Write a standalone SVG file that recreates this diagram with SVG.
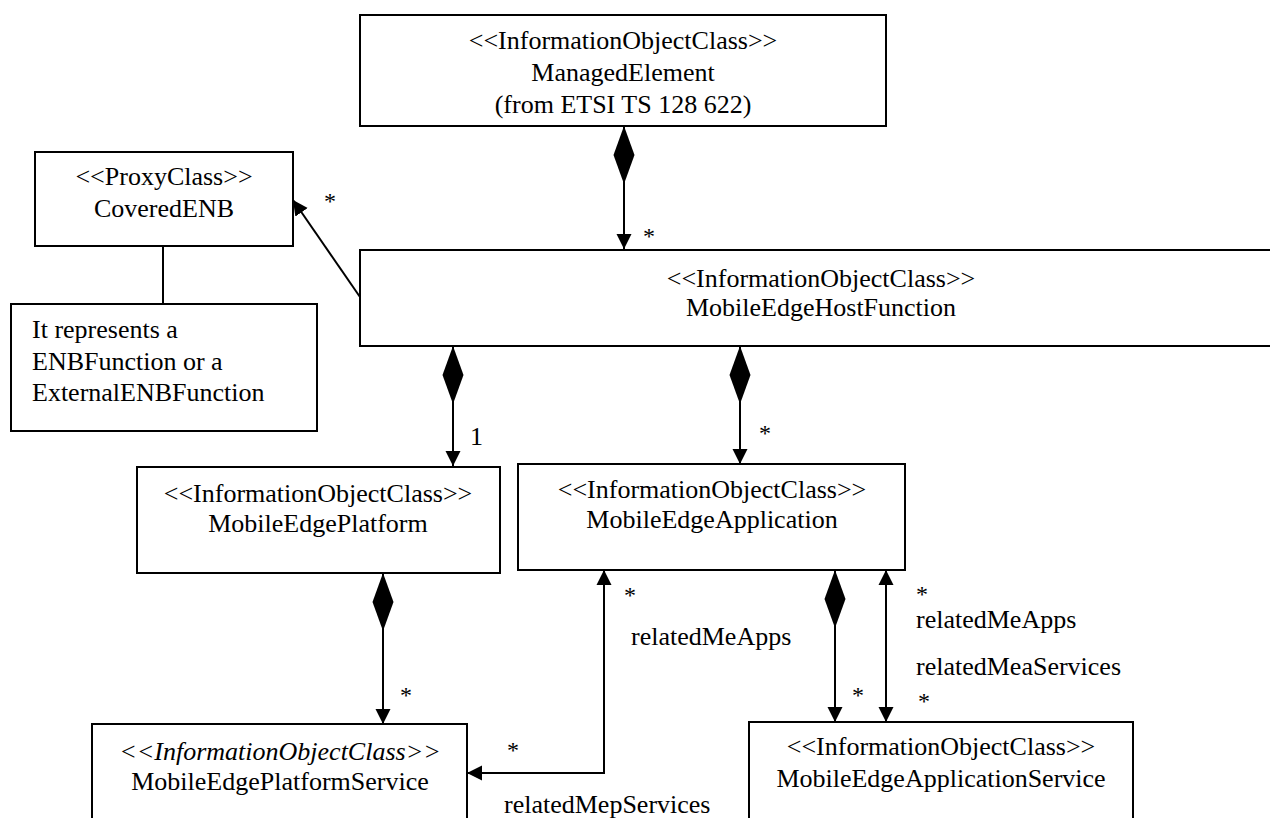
<svg xmlns="http://www.w3.org/2000/svg" width="1270" height="818" viewBox="0 0 1270 818" font-family="'Liberation Serif', 'Times New Roman', Times, serif">
<style>
text{font-family:'Liberation Serif','Times New Roman',Times,serif;font-size:26px;fill:#000}
.c{text-anchor:middle}
.s{font-size:24px}
.box{fill:#fff;stroke:#000;stroke-width:2}
.ln{fill:none;stroke:#000;stroke-width:2}
</style>
<defs>
<marker id="arr" markerUnits="userSpaceOnUse" markerWidth="16" markerHeight="16" refX="15" refY="8" orient="auto-start-reverse" viewBox="0 0 16 16">
<path d="M0,0.5 L15,8 L0,15.5 z" fill="#000"/>
</marker>
<marker id="dia" markerUnits="userSpaceOnUse" markerWidth="60" markerHeight="22" refX="0" refY="11" orient="auto" viewBox="0 0 60 22">
<path d="M0,11 L29,0.5 L58,11 L29,21.5 z" fill="#000"/>
</marker>
</defs>
<rect width="1270" height="818" fill="#fff"/>
<g id="ManagedElement">
<rect class="box" x="360" y="15" width="526" height="111"/>
<text class="c" x="623" y="49">&lt;&lt;InformationObjectClass&gt;&gt;</text>
<text class="c" x="623" y="81">ManagedElement</text>
<text class="c" x="623" y="113">(from ETSI TS 128 622)</text>
</g>
<g id="CoveredENB">
<rect class="box" x="35" y="152" width="258" height="94"/>
<text class="c" x="164" y="185">&lt;&lt;ProxyClass&gt;&gt;</text>
<text class="c" x="164" y="217">CoveredENB</text>
</g>
<g id="Note">
<rect class="box" x="11" y="304" width="306" height="127"/>
<text x="32" y="338">It represents a</text>
<text x="32" y="370">ENBFunction or a</text>
<text x="32" y="401">ExternalENBFunction</text>
</g>
<g id="MobileEdgeHostFunction">
<rect class="box" x="360" y="250" width="930" height="96"/>
<text class="c" x="821" y="287">&lt;&lt;InformationObjectClass&gt;&gt;</text>
<text class="c" x="821" y="316">MobileEdgeHostFunction</text>
</g>
<g id="MobileEdgePlatform">
<rect class="box" x="137" y="467" width="363" height="106"/>
<text class="c" x="318" y="502">&lt;&lt;InformationObjectClass&gt;&gt;</text>
<text class="c" x="318" y="532">MobileEdgePlatform</text>
</g>
<g id="MobileEdgeApplication">
<rect class="box" x="518" y="464" width="387" height="106"/>
<text class="c" x="712" y="498">&lt;&lt;InformationObjectClass&gt;&gt;</text>
<text class="c" x="712" y="528">MobileEdgeApplication</text>
</g>
<g id="MobileEdgePlatformService">
<rect class="box" x="92" y="724" width="375" height="110"/>
<text class="c" x="280" y="760" font-style="italic">&lt;&lt;InformationObjectClass&gt;&gt;</text>
<text class="c" x="280" y="790">MobileEdgePlatformService</text>
</g>
<g id="MobileEdgeApplicationService">
<rect class="box" x="749" y="722" width="384" height="112"/>
<text class="c" x="941" y="755">&lt;&lt;InformationObjectClass&gt;&gt;</text>
<text class="c" x="941" y="787">MobileEdgeApplicationService</text>
</g>
<g id="connectors">
<path class="ln" d="M624,126 V249" marker-start="url(#dia)" marker-end="url(#arr)"/>
<path class="ln" d="M360,297 L293,200" marker-end="url(#arr)"/>
<path class="ln" d="M163,246 V304"/>
<path class="ln" d="M453,346 V466" marker-start="url(#dia)" marker-end="url(#arr)"/>
<path class="ln" d="M740,346 V464" marker-start="url(#dia)" marker-end="url(#arr)"/>
<path class="ln" d="M383,573 V724" marker-start="url(#dia)" marker-end="url(#arr)"/>
<path class="ln" d="M604,570 V773 H467" marker-start="url(#arr)" marker-end="url(#arr)"/>
<path class="ln" d="M835,570 V722" marker-start="url(#dia)" marker-end="url(#arr)"/>
<path class="ln" d="M886,570 V722" marker-start="url(#arr)" marker-end="url(#arr)"/>
</g>
<g id="labels">
<text class="c s" x="649" y="244">*</text>
<text class="c s" x="330" y="209">*</text>
<text class="c s" x="765" y="441">*</text>
<text x="470" y="445">1</text>
<text class="c s" x="406" y="703">*</text>
<text class="c s" x="513" y="758">*</text>
<text class="c s" x="630" y="603">*</text>
<text x="631" y="645">relatedMeApps</text>
<text x="504" y="813">relatedMepServices</text>
<text class="c s" x="858" y="703">*</text>
<text class="c s" x="922" y="602">*</text>
<text x="916" y="628">relatedMeApps</text>
<text x="916" y="675">relatedMeaServices</text>
<text class="c s" x="924" y="709">*</text>
</g>
</svg>
